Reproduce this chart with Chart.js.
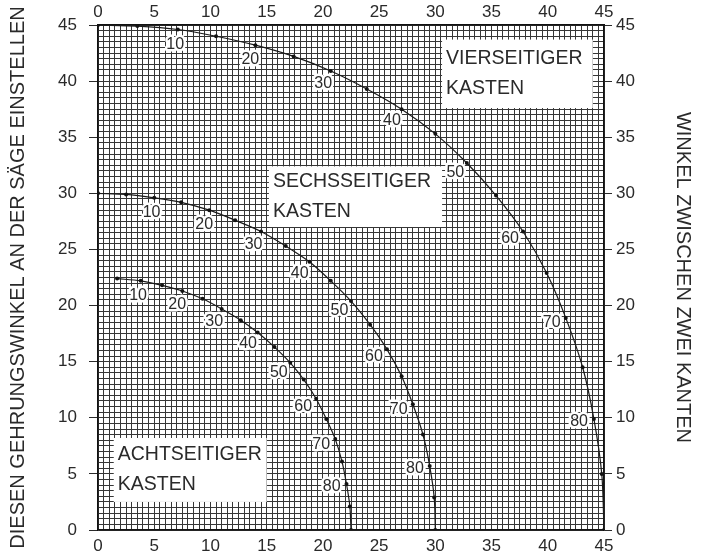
<!DOCTYPE html>
<html>
<head>
<meta charset="utf-8">
<script src="https://cdn.jsdelivr.net/npm/chart.js@4"></script>
<style>
  html, body { margin: 0; padding: 0; background: #fff; }
  #wrap { width: 704px; height: 553px; position: relative; }
</style>
</head>
<body>
<div id="wrap"><canvas id="chart"></canvas></div>
<script>
// slope angle of the sides, one point every 5 degrees
const tiltAngles = [0, 5, 10, 15, 20, 25, 30, 35, 40, 45, 50, 55, 60, 65, 70, 75, 80, 85, 90];
const labelAngles = [10, 20, 30, 40, 50, 60, 70, 80];

// four sided box
const fourX = [0, 3.5, 7.1, 10.5, 14.0, 17.4, 20.7, 23.9, 27.0, 30.0, 32.8, 35.4, 37.8, 39.9, 41.6, 43.1, 44.1, 44.8, 45];
const fourY = [45, 44.9, 44.6, 44.0, 43.2, 42.2, 40.9, 39.3, 37.5, 35.3, 32.7, 29.8, 26.6, 22.9, 18.9, 14.5, 9.9, 5.0, 0];

// six sided box
const sixX = [0, 2.5, 5.0, 7.4, 9.9, 12.2, 14.5, 16.7, 18.8, 20.7, 22.5, 24.2, 25.7, 27.0, 28.0, 28.9, 29.5, 29.9, 30];
const sixY = [30, 29.9, 29.6, 29.2, 28.5, 27.6, 26.6, 25.3, 23.9, 22.2, 20.4, 18.3, 16.1, 13.7, 11.2, 8.5, 5.7, 2.9, 0];

// eight sided box (starts at 5 degrees)
const eightAngles = tiltAngles.slice(1);
const eightX = [1.7, 3.8, 5.7, 7.5, 9.3, 11.0, 12.7, 14.2, 15.7, 17.1, 18.3, 19.4, 20.3, 21.1, 21.7, 22.1, 22.4, 22.5];
const eightY = [22.4, 22.2, 21.8, 21.3, 20.6, 19.7, 18.7, 17.6, 16.3, 14.9, 13.4, 11.7, 9.9, 8.1, 6.1, 4.1, 2.1, 0];

// text boxes in data units: [xMin, yMax, xMax, yMin]
const boxNames = [["VIERSEITIGER", "KASTEN"], ["SECHSSEITIGER", "KASTEN"], ["ACHTSEITIGER", "KASTEN"]];
const boxAreas = [[30.6, 43.7, 44.0, 37.6], [15.2, 32.4, 30.6, 27.0], [1.4, 8.2, 15.0, 2.5]];

const FONT = "'Liberation Sans', Arial, sans-serif";
const INK = "#2a2a2a";

function toPoints(xs, ys) {
  return xs.map((x, i) => ({ x, y: ys[i] }));
}

function curve(xs, ys, angles) {
  return {
    data: toPoints(xs, ys),
    angles,
    borderColor: "#1a1a1a",
    borderWidth: 1.2,
    pointRadius: 2,
    pointBackgroundColor: "#111",
    pointBorderWidth: 0,
    tension: 0.3,
    showLine: true,
  };
}

const boxPlugin = {
  id: "boxes",
  beforeDatasetsDraw(chart) {
    const { ctx, scales } = chart;
    ctx.save();
    boxAreas.forEach((b, i) => {
      const l = scales.x.getPixelForValue(b[0]);
      const t = scales.y.getPixelForValue(b[1]);
      const r = scales.x.getPixelForValue(b[2]);
      const bt = scales.y.getPixelForValue(b[3]);
      ctx.fillStyle = "#fff";
      ctx.fillRect(l, t, r - l, bt - t);
      ctx.fillStyle = INK;
      ctx.font = "19.5px " + FONT;
      ctx.textBaseline = "middle";
      ctx.textAlign = "left";
      const mid = (t + bt) / 2;
      ctx.fillText(boxNames[i][0], l + 4, mid - 15);
      ctx.fillText(boxNames[i][1], l + 4, mid + 15);
    });
    ctx.restore();
  },
};

const anglePlugin = {
  id: "angleLabels",
  afterDatasetsDraw(chart) {
    const { ctx } = chart;
    ctx.save();
    ctx.font = "16px " + FONT;
    ctx.textAlign = "center";
    ctx.textBaseline = "middle";
    ctx.lineJoin = "round";
    chart.data.datasets.forEach((ds, di) => {
      const meta = chart.getDatasetMeta(di);
      ds.angles.forEach((a, i) => {
        if (!labelAngles.includes(a)) return;
        const pt = meta.data[i];
        const rad = (a * Math.PI) / 180;
        const lx = pt.x - 15 * Math.sin(rad);
        const ly = pt.y + 15 * Math.cos(rad);
        ctx.strokeStyle = "#fff";
        ctx.lineWidth = 5;
        ctx.strokeText(String(a), lx, ly);
        ctx.fillStyle = INK;
        ctx.fillText(String(a), lx, ly);
      });
    });
    ctx.restore();
  },
};

const tickFont = { family: FONT, size: 17 };
const majorTick = (c) => (c.tick && c.tick.value % 5 === 0 ? INK : "rgba(0,0,0,0)");
const every5 = (v) => (v % 5 === 0 ? v : "");

new Chart(document.getElementById("chart"), {
  type: "scatter",
  data: {
    datasets: [
      curve(fourX, fourY, tiltAngles),
      curve(sixX, sixY, tiltAngles),
      curve(eightX, eightY, eightAngles),
    ],
  },
  options: {
    responsive: true,
    maintainAspectRatio: false,
    animation: false,
    layout: { padding: 0 },
    plugins: { legend: { display: false }, tooltip: { enabled: false } },
    scales: {
      x: {
        type: "linear",
        position: "bottom",
        min: 0,
        max: 45,
        afterFit: (s) => { s.height = 23; },
        ticks: { stepSize: 0.5, autoSkip: false, maxRotation: 0, callback: every5, font: tickFont, color: INK, padding: 6 },
        grid: { color: "#363636", lineWidth: 1, drawTicks: false },
        border: { color: "#111", width: 1.5 },
      },
      x2: {
        type: "linear",
        position: "top",
        min: 0,
        max: 45,
        afterFit: (s) => { s.height = 25; },
        ticks: { stepSize: 5, maxRotation: 0, font: tickFont, color: INK, padding: 2 },
        grid: { drawOnChartArea: false, drawTicks: false },
        border: { color: "#111", width: 1.5 },
      },
      y: {
        type: "linear",
        position: "left",
        min: 0,
        max: 45,
        afterFit: (s) => { s.width = 98; },
        ticks: { stepSize: 0.5, autoSkip: false, callback: every5, font: tickFont, color: INK, padding: 12 },
        grid: { color: "#363636", lineWidth: 1, tickLength: 9, tickColor: majorTick },
        border: { color: "#111", width: 1.5 },
        title: {
          display: true,
          text: "DIESEN GEHRUNGSWINKEL AN DER SÄGE EINSTELLEN",
          font: { family: FONT, size: 20 },
          color: INK,
          padding: { top: 6, bottom: 0 },
        },
      },
      y2: {
        type: "linear",
        position: "right",
        min: 0,
        max: 45,
        afterFit: (s) => { s.width = 100; },
        ticks: { stepSize: 5, font: tickFont, color: INK, padding: 4 },
        grid: { drawOnChartArea: false, tickLength: 8, tickColor: INK },
        border: { color: "#111", width: 1.5 },
        title: {
          display: true,
          text: "WINKEL ZWISCHEN ZWEI KANTEN",
          font: { family: FONT, size: 20 },
          color: INK,
          padding: { top: 9, bottom: 0 },
        },
      },
    },
  },
  plugins: [boxPlugin, anglePlugin],
});
</script>
</body>
</html>
